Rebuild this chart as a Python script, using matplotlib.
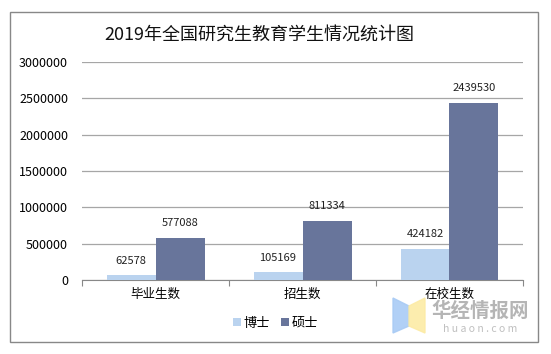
import numpy as np
import matplotlib.pyplot as plt
from matplotlib.patches import Rectangle, Polygon

plt.rcParams['font.family'] = ['Noto Sans CJK SC', 'DejaVu Sans']

categories = ['毕业生数', '招生数', '在校生数']
series_names = ['博士', '硕士']
doctor = [62578, 105169, 424182]
master = [577088, 811334, 2439530]
colors = ['#BAD3EF', '#68759B']

fig = plt.figure(figsize=(5.51, 3.54), dpi=100)
ax = fig.add_axes([82 / 551, 1 - 280 / 354, (523 - 82) / 551, (280 - 62) / 354])

x = np.arange(len(categories))
w = 1 / 3
b1 = ax.bar(x - w / 2, doctor, w, color=colors[0], label=series_names[0], zorder=3)
b2 = ax.bar(x + w / 2, master, w, color=colors[1], label=series_names[1], zorder=3)

for bars, vals in [(b1, doctor), (b2, master)]:
    for r, v in zip(bars, vals):
        ax.annotate(str(v), (r.get_x() + r.get_width() / 2, v), xytext=(0, 7),
                    textcoords='offset points', ha='center', va='bottom',
                    fontsize=8, color='#222222')

ax.set_xlim(-0.5, 2.5)
ax.set_ylim(0, 3000000)
ax.set_yticks(np.arange(0, 3000001, 500000))
ax.set_yticklabels([str(v) for v in range(0, 3000001, 500000)], fontsize=9)
ax.yaxis.grid(True, color='#A6A6A6', linewidth=0.9, zorder=0)
ax.tick_params(axis='y', length=0, pad=10)

ax.set_xticks([-0.5, 0.5, 1.5, 2.5])
ax.set_xticklabels([])
ax.set_xticks(x, minor=True)
ax.set_xticklabels(categories, minor=True, fontsize=9)
ax.tick_params(axis='x', which='major', length=4, color='#888888', direction='out')
ax.tick_params(axis='x', which='minor', length=0, pad=6)

for s in ['top', 'right', 'left']:
    ax.spines[s].set_visible(False)
ax.spines['bottom'].set_color('#888888')

fig.text(0.47, 1 - 35 / 354, '2019年全国研究生教育学生情况统计图', ha='center',
         va='center', fontsize=13, color='#111111')

fig.legend(handles=[b1, b2], loc='center', bbox_to_anchor=(0.5, 1 - 323 / 354),
           ncol=2, frameon=False, fontsize=9.5, handlelength=0.6, handleheight=0.6,
           handletextpad=0.2, columnspacing=0.8)

# outer frame
fig.patches.append(Rectangle((10 / 551, 1 - 342 / 354), 528 / 551, 330 / 354,
                             transform=fig.transFigure, fill=False,
                             edgecolor='#888888', linewidth=1))

# watermark
fig.patches.append(Polygon([(393 / 551, 1 - 298 / 354), (409 / 551, 1 - 306 / 354),
                            (409 / 551, 1 - 326 / 354), (393 / 551, 1 - 333 / 354)],
                           transform=fig.transFigure, color='#A9CBF5', alpha=0.9))
fig.patches.append(Polygon([(409 / 551, 1 - 306 / 354), (425 / 551, 1 - 298 / 354),
                            (425 / 551, 1 - 333 / 354), (409 / 551, 1 - 326 / 354)],
                           transform=fig.transFigure, color='#FCEBA5', alpha=0.9))
fig.text(480 / 551, 1 - 311 / 354, '华经情报网', ha='center', va='center',
         fontsize=14, color='#A8A8A8', alpha=0.85, weight='bold')
fig.text(480 / 551, 1 - 329 / 354, 'h u a o n . c o m', ha='center', va='center',
         fontsize=7.5, color='#B4B4B4', alpha=0.85)

fig.savefig('out.png', dpi=100)
